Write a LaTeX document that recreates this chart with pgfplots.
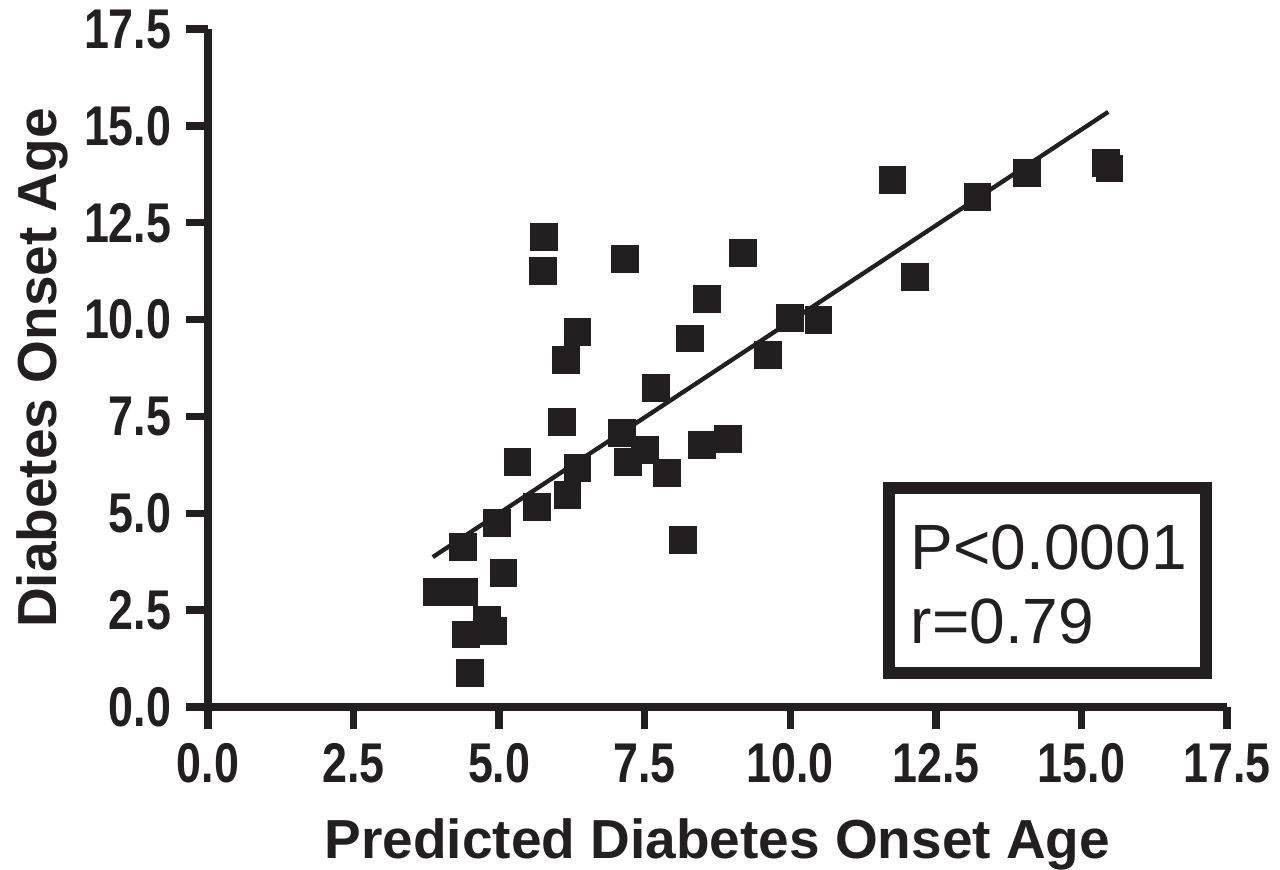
\documentclass[border=0pt]{standalone}
\usepackage{fontspec}
\setmainfont{Liberation Sans}
\newfontfamily\tickfont[FakeStretch=0.8]{Liberation Sans Bold}
\newfontfamily\labfont{Liberation Sans Bold}
\usepackage{pgfplots}
\pgfplotsset{compat=1.18}
\definecolor{ink}{HTML}{231F20}
\pgfplotstableread{
x y
5.77 12.13
5.75 11.25
7.16 11.56
9.19 11.72
8.57 10.53
8.28 9.52
6.34 9.68
6.15 8.96
7.69 8.23
6.08 7.36
5.31 6.32
7.11 7.07
7.21 6.32
7.50 6.63
6.34 6.17
6.17 5.47
5.65 5.16
7.88 6.04
8.48 6.76
8.93 6.92
4.96 4.75
4.38 4.13
8.16 4.31
5.07 3.46
3.93 2.97
4.40 2.97
4.43 1.88
4.79 2.25
4.89 1.96
4.50 0.88
9.99 10.04
10.48 9.99
9.62 9.09
11.75 13.60
13.21 13.16
14.06 13.78
15.42 14.05
15.48 13.90
12.14 11.10
}\pts
\begin{document}
\begin{tikzpicture}
\useasboundingbox (-62.4pt,-48.6pt) rectangle (321.6pt,212.1pt);
\begin{axis}[
  scale only axis,
  width=305.7pt, height=203.4pt,
  xmin=0, xmax=17.5, ymin=0, ymax=17.5,
  axis lines=left,
  axis line style={-, line width=2.2pt, ink},
  xtick={0,2.5,...,17.5}, ytick={0,2.5,...,17.5},
  xticklabels={0.0,2.5,5.0,7.5,10.0,12.5,15.0,17.5},
  yticklabels={0.0,2.5,5.0,7.5,10.0,12.5,15.0,17.5},
  tick align=outside,
  major tick length=6.5pt,
  tick style={line width=2.2pt, ink},
  ticklabel style={font=\tickfont\fontsize{16.8}{18}\selectfont, text=ink},
  xticklabel style={yshift=-1pt},
  yticklabel style={xshift=-1pt},
  xlabel={Predicted Diabetes Onset Age},
  ylabel={Diabetes Onset Age},
  every axis x label/.style={at={([yshift=-45.3pt]axis description cs:0.5,0)}, anchor=base, font=\labfont\fontsize{16.5}{18}\selectfont, text=ink},
  every axis y label/.style={at={([xshift=-45.3pt]axis description cs:0,0.5)}, rotate=90, anchor=base, font=\labfont\fontsize{16.5}{18}\selectfont, text=ink},
  clip=false,
]
\addplot[only marks, mark=square*, mark size=4pt, mark options={fill=ink, draw=ink, line width=0.2pt}] table[x=x,y=y] {\pts};
\addplot[ink, line width=1.3pt] coordinates {(3.86,3.87) (15.46,15.36)};
\draw[ink, line width=3.6pt] (axis cs:11.70,0.88) rectangle (axis cs:17.14,5.65);
\node[anchor=base west, inner sep=0pt, font=\fontsize{19.2}{22}\selectfont, text=ink] at (axis cs:12.06,3.54) {P<0.0001};
\node[anchor=base west, inner sep=0pt, font=\fontsize{19.2}{22}\selectfont, text=ink] at (axis cs:12.06,1.65) {r=0.79};
\end{axis}
\end{tikzpicture}
\end{document}
